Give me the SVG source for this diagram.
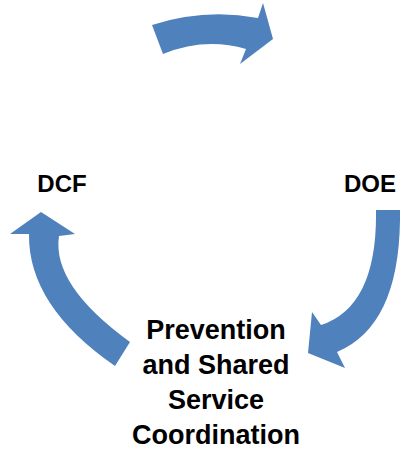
<svg xmlns="http://www.w3.org/2000/svg" width="400" height="454" viewBox="0 0 400 454">
<style>
.arr{fill:#4f81bd;stroke:none}
.lbl{font-family:"Liberation Sans",Arial,sans-serif;font-weight:bold;fill:#000;text-anchor:middle}
.sm{font-size:24px}
.big{font-size:27px}
</style>
<rect width="400" height="454" fill="#fff"/>
<g id="connectors">
<path class="arr" d="M152,25 Q205,8 258,18 L263,3 L273,39 L240,64 L246,49 Q205,37 163,54 Z"/>
<path class="arr" d="M376,210 L400,210 Q401.5,325 337,352 L345,368 L308,353 L312,312 L321,325 Q377.5,306.5 376,210 Z"/>
<path class="arr" d="M130,342 Q51.5,285 59,236 L75,234 L41,212 L10,234 L29,234 Q28,306 115,366 Z"/>
</g>
<g id="dcf"><text class="lbl sm" x="62" y="192">DCF</text></g>
<g id="doe"><text class="lbl sm" x="370" y="192">DOE</text></g>
<g id="prevention">
<text class="lbl big" x="216" y="339">Prevention</text>
<text class="lbl big" x="216" y="374">and Shared</text>
<text class="lbl big" x="216" y="409">Service</text>
<text class="lbl big" x="216" y="444">Coordination</text>
</g>
</svg>
